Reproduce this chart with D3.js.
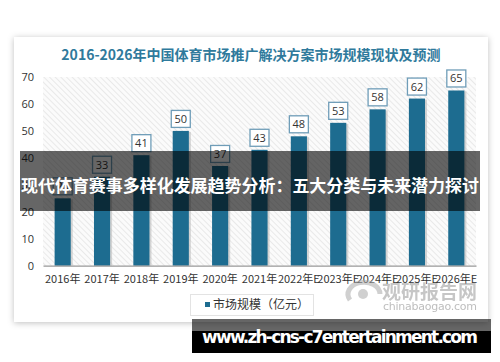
<!DOCTYPE html>
<html><head><meta charset="utf-8">
<script src="https://cdn.jsdelivr.net/npm/d3@7"></script>
<style>html,body{margin:0;padding:0;background:#fff;}svg{display:block;}</style>
</head><body>
<svg id="c" width="500" height="362"></svg>
<script>
const categories = ["2016年","2017年","2018年","2019年","2020年","2021年","2022年E","2023年E","2024年E","2025年E","2026年E"];
const values = [25,33,41,50,37,43,48,53,58,62,65];
const yTicks = [0,10,20,30,40,50,60,70];
const title = "2016-2026年中国体育市场推广解决方案市场规模现状及预测";
const legendLabel = "市场规模（亿元）";
const bannerText = "现代体育赛事多样化发展趋势分析：五大分类与未来潜力探讨";
const urlText = "www.zh-cns-c7entertainment.com";

const svg = d3.select("#c");
const font = "'Noto Sans CJK SC','Liberation Sans',sans-serif";
const defs = svg.append("defs");
const sh = defs.append("filter").attr("id","shadow").attr("x","-10%").attr("y","-10%").attr("width","120%").attr("height","120%");
sh.append("feDropShadow").attr("dx",0).attr("dy",1).attr("stdDeviation",3).attr("flood-color","#000").attr("flood-opacity",0.25);
const pat = defs.append("pattern").attr("id","hatch").attr("patternUnits","userSpaceOnUse").attr("width",4).attr("height",4).attr("patternTransform","rotate(-45)");
pat.append("rect").attr("width",4).attr("height",4).attr("fill","#fbfbfb");
pat.append("line").attr("x1",0).attr("y1",0).attr("x2",0).attr("y2",4).attr("stroke","#e2e2e2").attr("stroke-width",1.4);

// card
svg.append("rect").attr("x",14).attr("y",37).attr("width",474).attr("height",285).attr("fill","#fff").attr("filter","url(#shadow)");

svg.append("text").attr("x",251).attr("y",60).attr("text-anchor","middle")
  .attr("font-family",font).attr("font-weight","bold").attr("font-size",14).attr("fill","#2f7a9c").text(title);

const x = d3.scaleBand().domain(categories).range([43,476]).paddingInner(0.59).paddingOuter(0.295);
const y = d3.scaleLinear().domain([0,70]).range([265.7,77]);

svg.append("rect").attr("x",43).attr("y",y(70)).attr("width",433).attr("height",y(0)-y(70)).attr("fill","url(#hatch)");

// y axis labels
const ya = svg.append("g").attr("transform","translate(34,0)").call(d3.axisLeft(y).tickValues(yTicks).tickSize(0).tickPadding(0));
ya.select(".domain").remove();
ya.selectAll("text").attr("font-family","'Open Sans','Liberation Sans',sans-serif").attr("font-size",11).attr("fill","#333");

// bars shadow
svg.append("g").selectAll("rect").data(values).join("rect")
  .attr("x",(d,i)=>x(categories[i])+2).attr("y",d=>y(d)+1).attr("width",x.bandwidth()).attr("height",d=>y(0)-y(d)-1)
  .attr("fill","#bbb").attr("opacity",0.6);
svg.append("g").selectAll("rect").data(values).join("rect")
  .attr("x",(d,i)=>x(categories[i])).attr("y",d=>y(d)).attr("width",x.bandwidth()).attr("height",d=>y(0)-y(d))
  .attr("fill","#1d6c90");

// x axis
const xa = svg.append("g").attr("transform",`translate(0,${y(0)})`).call(d3.axisBottom(x).tickSize(0).tickPadding(10));
xa.select(".domain").attr("stroke","#999").attr("stroke-width",1.2);
xa.selectAll("text").attr("font-family","'Noto Sans CJK SC',sans-serif").attr("font-size",11).attr("fill","#333");

// labels
const lg = svg.append("g").selectAll("g").data(values).join("g")
  .attr("transform",(d,i)=>`translate(${x(categories[i])+x.bandwidth()/2},${y(d)-12})`);
lg.append("rect").attr("x",-9.5).attr("y",-8.5).attr("width",19).attr("height",17).attr("fill","#fff").attr("stroke","#6f9db8").attr("stroke-width",1.3);
lg.append("text").attr("text-anchor","middle").attr("dy","0.36em").attr("font-family","'Open Sans','Liberation Sans',sans-serif").attr("font-size",11).attr("fill","#333").text(d=>d);

// legend
svg.append("rect").attr("x",190.5).attr("y",294.5).attr("width",123).attr("height",21).attr("fill","#fff").attr("stroke","#e3e3e3");
svg.append("rect").attr("x",205).attr("y",302).attr("width",5).attr("height",5).attr("fill","#1d6c90");
svg.append("text").attr("x",213).attr("y",309).attr("font-family",font).attr("font-size",12).attr("fill","#333").text(legendLabel);

// watermark
const wm = svg.append("g").attr("opacity",0.55);
wm.append("path").attr("d","M350,300 a16,12 0 1 1 30,-6").attr("fill","none").attr("stroke","#aaa").attr("stroke-width",5);
wm.append("circle").attr("cx",363).attr("cy",294).attr("r",5).attr("fill","#aaa");
wm.append("text").attr("x",382).attr("y",299).attr("font-family",font).attr("font-weight","bold").attr("font-size",19).attr("fill","#999").attr("textLength",95).text("观研报告网");
wm.append("text").attr("x",383).attr("y",310).attr("font-family","'DejaVu Sans',sans-serif").attr("font-size",11).attr("fill","#888").attr("textLength",94).text("chinabaogao.com");

// banner
svg.append("rect").attr("x",20).attr("y",151).attr("width",460).attr("height",60).attr("fill","#000").attr("opacity",0.6);
svg.append("text").attr("x",250).attr("y",192).attr("text-anchor","middle").attr("font-family",font).attr("font-weight","bold").attr("font-size",17).attr("fill","#fff").attr("textLength",458).text(bannerText);

// url box
svg.append("rect").attr("x",192).attr("y",319).attr("width",299).attr("height",12).attr("fill","#000").attr("opacity",0.6);
svg.append("rect").attr("x",192).attr("y",331).attr("width",299).attr("height",22).attr("fill","#000");
svg.append("text").attr("x",340).attr("y",343).attr("text-anchor","middle").attr("font-family","'DejaVu Sans',sans-serif").attr("font-weight","bold").attr("font-size",17).attr("fill","#fff").attr("textLength",276).text(urlText);
</script>
</body></html>
